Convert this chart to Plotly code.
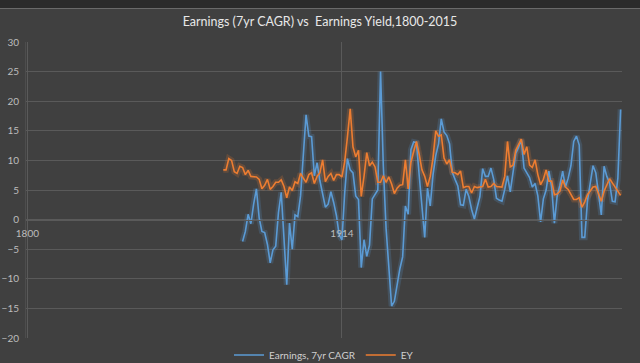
import plotly.graph_objects as go

# ---------------- data ----------------
ey_years = list(range(1871, 2016))
ey_values = [
    8.4, 8.4, 10.3, 10.0, 8.1, 7.8, 9.0, 8.8, 7.6, 8.3,          # 1871-1880
    7.3, 7.3, 7.2, 6.8, 5.2, 5.8, 6.8, 5.1, 5.6, 6.3,            # 1881-1890
    6.3, 6.7, 5.6, 3.7, 5.5, 4.9, 6.4, 6.1, 7.8, 7.0,            # 1891-1900
    6.3, 7.6, 7.9, 6.1, 7.3, 7.9, 10.1, 6.4, 7.3, 7.8,           # 1901-1910
    6.6, 7.6, 7.6, 7.2, 9.8, 14.0, 18.7, 12.3, 10.6, 11.7,       # 1911-1920
    3.9, 7.3, 11.3, 9.1, 9.7, 8.9, 6.3, 6.3, 7.4, 6.3,           # 1921-1930
    7.2, 6.0, 4.4, 5.3, 5.8, 5.9, 10.1, 5.2, 9.7, 11.5,          # 1931-1940
    13.2, 11.0, 8.4, 7.3, 5.6, 7.3, 10.4, 15.0, 14.1, 14.3,      # 1941-1950
    10.4, 9.4, 10.1, 8.0, 7.9, 7.6, 8.2, 5.4, 5.6, 5.6,          # 1951-1960
    4.5, 5.6, 5.4, 5.5, 5.6, 6.8, 5.5, 5.6, 6.1, 5.6,            # 1961-1970
    5.5, 5.5, 7.3, 13.2, 8.9, 9.2, 11.7, 12.7, 13.6, 11.0,       # 1971-1980
    12.3, 9.2, 8.8, 10.1, 7.6, 5.9, 6.8, 8.4, 6.5, 6.5,          # 1981-1990
    4.2, 4.3, 4.8, 6.7, 5.5, 5.1, 4.3, 3.4, 3.4, 3.7,            # 1991-2000
    2.1, 3.0, 4.2, 4.8, 5.5, 5.6, 4.5, 3.1, 4.8, 6.0,            # 2001-2010
    6.9, 6.2, 5.5, 4.8, 4.1,                                     # 2011-2015
]

earn_years = list(range(1878, 2016))
earn_values = [
    -3.7, -2.0, 0.9,                                             # 1878-1880
    -0.7, 2.6, 5.2, 0.3, -2.0, -2.2, -4.2, -7.3, -5.1, -4.5,     # 1881-1890
    1.2, 4.6, -3.2, -11.0, -0.6, -5.0, 0.8, 0.5, 4.0, 11.2,      # 1891-1900
    17.7, 14.1, 14.0, 7.4, 9.6, 6.6, 4.5, 2.1, 2.6, 4.7,         # 1901-1910
    2.9, 0.7, -2.6, -3.4, 4.5, 10.3, 8.4, 7.9, 4.0, 3.4,         # 1911-1920
    -8.1, -3.4, -6.2, -4.3, 3.5, 4.2, 5.0, 25.0, 9.0, -1.5,      # 1921-1930
    -7.5, -14.6, -13.8, -11.0, -8.3, -6.3, 2.3, 0.9, 11.8, 13.1, # 1931-1940
    13.0, 7.5, 1.5, -3.0, 5.3, 2.3, 7.5, 10.8, 12.8, 17.0,       # 1941-1950
    14.8, 14.2, 12.8, 8.0, 6.8, 5.7, 2.5, 2.4, 5.1, 3.9,         # 1951-1960
    1.7, 0.1, 2.0, 3.9, 8.6, 7.3, 7.3, 8.7, 6.8, 3.6,            # 1961-1970
    3.3, 3.1, 5.1, 7.4, 4.7, 8.4, 11.2, 12.2, 13.5, 8.7,         # 1971-1980
    8.0, 7.1, 5.5, 6.1, 4.0, -0.4, 3.5, 5.0, 8.2, 5.5,           # 1981-1990
    -0.6, 4.0, 5.8, 8.2, 5.5, 7.0, 9.1, 13.2, 14.1, 12.6,        # 1991-2000
    -3.0, -3.0, 3.2, 5.8, 9.1, 7.9, 4.5, 0.8, 9.0, 7.3,          # 2001-2010
    6.2, 3.1, 3.0, 7.0, 18.6,                                    # 2011-2015
]

x_tick_vals = [1800, 1914]
x_tick_text = ["1800", "1914"]
y_tick_vals = [-20, -15, -10, -5, 0, 5, 10, 15, 20, 25, 30]

title_text = "Earnings (7yr CAGR) vs  Earnings Yield,1800-2015"
earn_name = "Earnings, 7yr CAGR"
ey_name = "EY"

# ---------------- style ----------------
BLUE = "#5B9BD5"
ORANGE = "#ED7D31"
BG = "#404040"
GRID = "#5a5a5a"
TICK = "#bdbdbd"
FONT = "Lato"

fig = go.Figure()

# glow layers (not in legend)
fig.add_trace(go.Scatter(x=earn_years, y=earn_values, mode="lines",
                         line=dict(color="rgba(91,155,213,0.2)", width=6),
                         hoverinfo="skip", showlegend=False))
fig.add_trace(go.Scatter(x=ey_years, y=ey_values, mode="lines",
                         line=dict(color="rgba(237,125,49,0.2)", width=6),
                         hoverinfo="skip", showlegend=False))
# main lines
fig.add_trace(go.Scatter(x=earn_years, y=earn_values, mode="lines", name=earn_name,
                         line=dict(color=BLUE, width=1.6)))
fig.add_trace(go.Scatter(x=ey_years, y=ey_values, mode="lines", name=ey_name,
                         line=dict(color=ORANGE, width=1.6)))

H = 363
T, B = 42, 25
plot_h = H - T - B

def py(px_from_top):
    # convert pixel y (from top of image) to paper coordinate
    return 1 + (T - px_from_top) / plot_h

fig.update_layout(
    width=640, height=363,
    margin=dict(l=26, r=18, t=T, b=B, autoexpand=False),
    paper_bgcolor=BG, plot_bgcolor=BG,
    font=dict(family=FONT, color=TICK, size=10),
    title=dict(text=title_text, x=0.5, xanchor="center",
               y=1 - 22 / H, yanchor="middle",
               font=dict(family=FONT, size=12.5, color="#e8e8e8")),
    showlegend=True,
    legend=dict(orientation="h", x=0.5, xanchor="center",
                yref="container", y=1 - 355 / H, yanchor="middle",
                font=dict(family=FONT, size=10, color="#cfcfcf"),
                bgcolor="rgba(0,0,0,0)", itemwidth=30),
    xaxis=dict(range=[1799.5, 2015.5], tickvals=x_tick_vals, ticktext=x_tick_text,
               showgrid=True, gridcolor=GRID, gridwidth=1,
               showline=True, linecolor=GRID, linewidth=1,
               anchor="free", position=0.4, ticks="", ticklabelstandoff=4,
               automargin=False,
               tickfont=dict(family=FONT, size=10, color=TICK), zeroline=False),
    yaxis=dict(range=[-20, 30], tickvals=y_tick_vals,
               showgrid=True, gridcolor=GRID, gridwidth=1,
               showline=True, linecolor="#4d4d4d", zeroline=False, ticks="",
               automargin=False, ticklabelstandoff=4,
               tickfont=dict(family=FONT, size=10, color=TICK)),
    shapes=[
        dict(type="rect", xref="paper", yref="paper", x0=-1, x1=2,
             y0=py(8), y1=py(-5), fillcolor="#2b2b2b", line=dict(width=0), layer="below"),
        dict(type="line", xref="paper", yref="paper", x0=-0.1, x1=1.1,
             y0=py(8.5), y1=py(8.5), line=dict(color="#6a6a6a", width=1)),
    ],
)

fig.write_html(
    "out.html",
    config={"displayModeBar": False},
    post_script="document.body.style.margin='0';document.body.style.background='#404040';",
)
